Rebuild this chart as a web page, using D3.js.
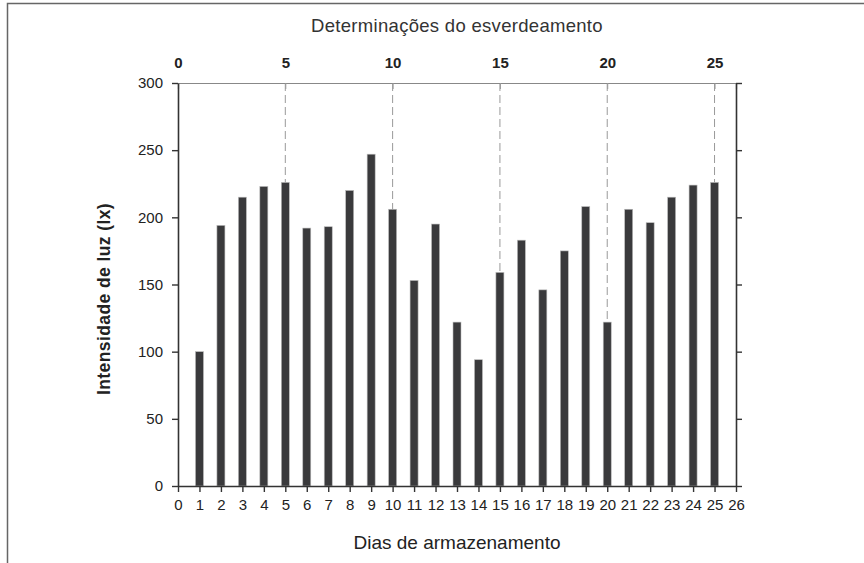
<!DOCTYPE html>
<html><head><meta charset="utf-8">
<script src="https://cdn.jsdelivr.net/npm/d3@7"></script>
<style>body{margin:0;background:#fff}svg{display:block}text{font-family:"Liberation Sans",Arial,sans-serif}</style>
</head><body>
<svg id="c" width="864" height="563"></svg>
<script>
const days = d3.range(1, 26);
const values = [100,194,215,223,226,192,193,220,247,206,153,195,122,94,159,183,146,175,208,122,206,196,215,224,226];
const yTicks = [0,50,100,150,200,250,300];
const topTicks = [0,5,10,15,20,25];
const greenDays = [5,10,15,20,25];
const title = "Determinações do esverdeamento";
const xLabel = "Dias de armazenamento";
const yLabel = "Intensidade de luz (lx)";

const svg = d3.select("#c");
const L = 178, R = 736, T = 83, B = 486;
const x = d3.scaleLinear().domain([0, 26]).range([L, R]);
const y = d3.scaleLinear().domain([0, 300]).range([B, T]);
const dark = "#333", txt = "#222";
const FF = "Liberation Sans, Arial, sans-serif";

// frame
svg.append("rect").attr("x", 7.5).attr("y", 3.5).attr("width", 900).attr("height", 600)
  .attr("fill", "none").attr("stroke", "#666").attr("stroke-width", 1.5);

// dashed lines from top axis to bar tops
const vmap = new Map(days.map((d, i) => [d, values[i]]));
svg.append("g").selectAll("line").data(greenDays).join("line")
  .attr("x1", d => x(d)).attr("x2", d => x(d))
  .attr("y1", T).attr("y2", d => y(vmap.get(d)))
  .attr("stroke", "#999").attr("stroke-width", 1).attr("stroke-dasharray", "8,4");

// bars
const bw = 8;
svg.append("g").selectAll("rect").data(days).join("rect")
  .attr("x", d => x(d) - bw / 2).attr("width", bw)
  .attr("y", (d, i) => y(values[i])).attr("height", (d, i) => B - y(values[i]))
  .attr("fill", "#3a3a3c").attr("stroke", "#bbb").attr("stroke-width", 0.6);

// top axis
const gTop = svg.append("g").attr("transform", `translate(0,${T})`)
  .call(d3.axisTop(x).tickValues(topTicks).tickSize(-6).tickPadding(15).tickFormat(d3.format("d")));
gTop.select(".domain").attr("stroke", "#888").attr("stroke-width", 1.2);
gTop.selectAll(".tick line").attr("stroke", "#999");
gTop.selectAll(".tick text").attr("font-size", 15).attr("font-weight", "bold").attr("fill", txt).attr("font-family", FF);

// left axis
const gL = svg.append("g").attr("transform", `translate(${L},0)`)
  .call(d3.axisLeft(y).tickValues(yTicks).tickSize(6).tickPadding(9).tickSizeOuter(0));
gL.select(".domain").attr("stroke", dark).attr("stroke-width", 1.6);
gL.selectAll(".tick line").attr("stroke", dark).attr("stroke-width", 1.4);
gL.selectAll(".tick text").attr("font-size", 15).attr("fill", txt).attr("font-family", FF);

// right axis
const gR = svg.append("g").attr("transform", `translate(${R},0)`)
  .call(d3.axisRight(y).tickValues(yTicks).tickSize(6).tickSizeOuter(0).tickFormat(""));
gR.select(".domain").attr("stroke", dark).attr("stroke-width", 1.6);
gR.selectAll(".tick line").attr("stroke", dark).attr("stroke-width", 1.4);

// bottom axis
const gB = svg.append("g").attr("transform", `translate(0,${B})`)
  .call(d3.axisBottom(x).tickValues(d3.range(0, 27)).tickSize(6).tickPadding(7).tickSizeOuter(0).tickFormat(d3.format("d")));
gB.select(".domain").attr("stroke", dark).attr("stroke-width", 1.6);
gB.selectAll(".tick line").attr("stroke", dark).attr("stroke-width", 1.4);
gB.selectAll(".tick text").attr("font-size", 15).attr("fill", txt).attr("font-family", FF);

// titles
svg.append("text").attr("x", (L + R) / 2).attr("y", 32).attr("text-anchor", "middle")
  .attr("font-size", 18.5).attr("letter-spacing", 0.3).attr("fill", "#333").text(title);
svg.append("text").attr("x", (L + R) / 2).attr("y", 549).attr("text-anchor", "middle")
  .attr("font-size", 19).attr("fill", txt).text(xLabel);
svg.append("text").attr("transform", `translate(110,299) rotate(-90)`).attr("text-anchor", "middle")
  .attr("font-size", 17.5).attr("letter-spacing", 0.4).attr("font-weight", "bold").attr("fill", txt).text(yLabel);
</script>
</body></html>
